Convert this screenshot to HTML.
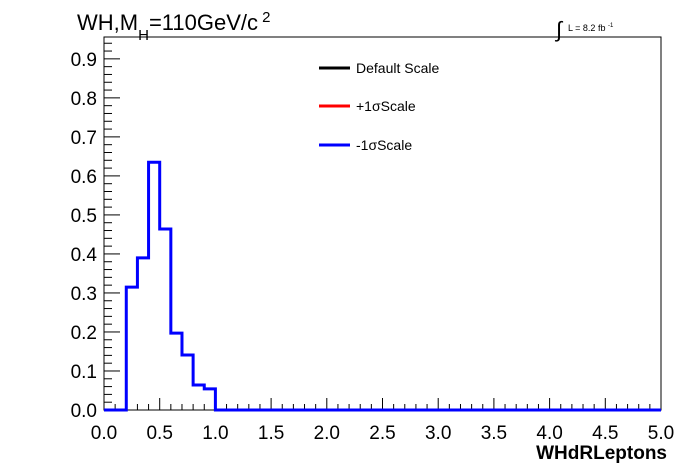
<!DOCTYPE html>
<html><head><meta charset="utf-8"><style>
body{margin:0;background:#fff}
svg{display:block;font-family:"Liberation Sans",sans-serif}
</style></head><body>
<svg id="c" width="696" height="472">
<rect x="0" y="0" width="696" height="472" fill="#fff"/>
<text x="77" y="30" font-size="22">WH,M<tspan font-size="15" dy="10">H</tspan><tspan dy="-10">=110GeV/c</tspan><tspan font-size="15" dy="-8"> 2</tspan></text>
<text x="556" y="37" font-size="22">∫</text>
<text x="568" y="31" font-size="9">L = 8.2 fb <tspan font-size="6" dy="-4">-1</tspan></text>
<g id="legend">
<line x1="319" y1="68" x2="350" y2="68" stroke="#000" stroke-width="3"/>
<text x="356" y="73" font-size="14">Default Scale</text>
<line x1="319" y1="106" x2="350" y2="106" stroke="#f00" stroke-width="3"/>
<text x="356" y="111" font-size="14">+1σScale</text>
<line x1="319" y1="145" x2="350" y2="145" stroke="#00f" stroke-width="3"/>
<text x="356" y="150" font-size="14">-1σScale</text>
</g>
<text x="667" y="459" font-size="19" font-weight="bold" text-anchor="end">WHdRLeptons</text>
</svg>
<script>
const binEdges=[0.0,0.1,0.2,0.3,0.4,0.5,0.6,0.7,0.8,0.9,1.0,5.0];
const minusValues=[0,0,0.315,0.39,0.635,0.464,0.197,0.141,0.064,0.054,0];
const xTicks=["0.0","0.5","1.0","1.5","2.0","2.5","3.0","3.5","4.0","4.5","5.0"];
const yTicks=["0.0","0.1","0.2","0.3","0.4","0.5","0.6","0.7","0.8","0.9"];
const L=104,R=661,T=37,B=410,XMAX=5,YMAX=0.956;
const sx=v=>L+(v/XMAX)*(R-L);
const sy=v=>B-(v/YMAX)*(B-T);
const svg=document.getElementById('c');
const NS='http://www.w3.org/2000/svg';
function mk(t,a){const e=document.createElementNS(NS,t);for(const k in a)e.setAttribute(k,a[k]);svg.appendChild(e);return e;}
let f=mk('rect',{x:L,y:T,width:R-L,height:B-T,fill:'none',stroke:'#000','stroke-width':1});


// x ticks
for(let i=0;i<=50;i++){const v=i*0.1;const x=sx(v);const maj=i%5==0;
 const t=mk('line',{x1:x,x2:x,y1:B,y2:B-(maj?12:6),stroke:'#000'});
 
 }
xTicks.forEach(s=>{const e=mk('text',{x:sx(parseFloat(s)),y:439,'font-size':19,'text-anchor':'middle'});e.textContent=s;
 
 });
// y ticks
for(let i=0;i*0.02<=YMAX;i++){const v=i*0.02;const y=sy(v);const maj=i%5==0;
 const t=mk('line',{x1:L,x2:L+(maj?16:8),y1:y,y2:y,stroke:'#000'});
 
 }
yTicks.forEach(s=>{const e=mk('text',{x:97,y:sy(parseFloat(s))+7,'font-size':19,'text-anchor':'end'});e.textContent=s;
 
 });
// histogram
let d='M'+sx(binEdges[0])+','+sy(minusValues[0]);
for(let i=0;i<minusValues.length;i++){
 d+=' L'+sx(binEdges[i])+','+sy(minusValues[i])+' L'+sx(binEdges[i+1])+','+sy(minusValues[i]);}
const p=mk('path',{d:d,fill:'none',stroke:'#00f','stroke-width':3});


</script>
</body></html>
